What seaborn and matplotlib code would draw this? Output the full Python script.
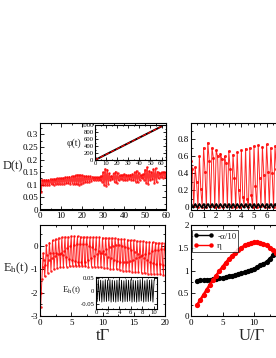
import numpy as np
import pandas as pd
import matplotlib
matplotlib.use("Agg")
import matplotlib.pyplot as plt
from matplotlib.ticker import MultipleLocator, FuncFormatter
import seaborn as sns

# ---------------- data ----------------
# top-left: D(t) band (upper samples at integer t, lower samples at half-integer t)
D_hi = [0.10, 0.12, 0.12, 0.12, 0.12, 0.123, 0.122, 0.124, 0.125, 0.125,
        0.127, 0.128, 0.13, 0.13, 0.132, 0.133, 0.135, 0.138, 0.14, 0.14,
        0.138, 0.135, 0.135, 0.133, 0.133, 0.132, 0.13, 0.13, 0.13, 0.135,
        0.15, 0.163, 0.16, 0.145, 0.135, 0.145, 0.152, 0.145, 0.138, 0.14,
        0.142, 0.14, 0.138, 0.14, 0.142, 0.15, 0.155, 0.148, 0.14, 0.142,
        0.16, 0.17, 0.155, 0.15, 0.162, 0.165, 0.152, 0.148, 0.15, 0.152, 0.15]
D_lo = [0.07, 0.10, 0.10, 0.10, 0.10, 0.102, 0.10, 0.103, 0.103, 0.104,
        0.105, 0.105, 0.106, 0.106, 0.105, 0.105, 0.103, 0.102, 0.10, 0.102,
        0.107, 0.11, 0.112, 0.113, 0.115, 0.117, 0.12, 0.12, 0.118, 0.112,
        0.10, 0.097, 0.105, 0.118, 0.122, 0.11, 0.108, 0.117, 0.122, 0.12,
        0.118, 0.12, 0.122, 0.12, 0.118, 0.112, 0.11, 0.118, 0.125, 0.12,
        0.108, 0.105, 0.118, 0.122, 0.108, 0.11, 0.125, 0.13, 0.128, 0.13, 0.13]
D_black = [0.0, 0.0, 0.0, 0.0, 0.0, 0.0, 0.0, 0.0, 0.0, 0.0, 0.0, 0.0, 0.0]
D_black_t = [0, 5, 10, 15, 20, 25, 30, 35, 40, 45, 50, 55, 60]

# inset phi(t)
phi_t = [0, 10, 20, 30, 40, 50, 60]
phi = [0, 160, 320, 480, 640, 800, 960]

# top-right: oscillation per period (peak, mid, low)
P_peak = [0.55, 0.47, 0.60, 0.70, 0.76, 0.70, 0.67, 0.63, 0.60, 0.66, 0.62,
          0.65, 0.67, 0.69, 0.70, 0.72, 0.73, 0.71, 0.74, 0.70, 0.72, 0.71, 0.73]
P_mid = [0.45, 0.30, 0.22, 0.42, 0.55, 0.58, 0.60, 0.57, 0.52, 0.45, 0.35,
         0.20, 0.12, 0.10, 0.15, 0.25, 0.35, 0.38, 0.42, 0.40, 0.45, 0.42, 0.44]
P_low = [0.02, 0.0, 0.01, 0.0, 0.02, 0.0, 0.01, 0.0, 0.02, 0.0, 0.01,
         0.0, 0.02, 0.0, 0.01, 0.0, 0.02, 0.0, 0.01, 0.0, 0.02, 0.0, 0.01]
B_osc = [0.04, 0.0, 0.04, 0.0, 0.04, 0.0, 0.04, 0.0, 0.04, 0.0, 0.04, 0.0,
         0.04, 0.0, 0.04, 0.0, 0.04, 0.0, 0.04, 0.0, 0.04, 0.0, 0.04, 0.0,
         0.04, 0.0, 0.04, 0.0, 0.04, 0.0, 0.04, 0.0, 0.04, 0.0, 0.04, 0.0,
         0.04, 0.0, 0.04, 0.0, 0.04, 0.0, 0.04, 0.0, 0.04, 0.0]

# bottom-left: E_h(t)
E_trans = [-3.0, -2.6, -2.0, -1.4, -0.9]
E_top = [-0.3, 0.05, 0.15, 0.25, 0.3, 0.35, 0.38, 0.4, 0.4, 0.42,
         0.42, 0.42, 0.4, 0.4, 0.4, 0.38, 0.38, 0.38, 0.38, 0.36,
         0.36, 0.35, 0.35, 0.33, 0.32, 0.3, 0.28, 0.27, 0.25, 0.25,
         0.22, 0.2, 0.2, 0.18, 0.17, 0.16, 0.15, 0.14, 0.13, 0.12]
E_bot = [-1.3, -1.15, -1.05, -1.0, -0.95, -0.92, -0.9, -0.88, -0.87, -0.86,
         -0.86, -0.86, -0.86, -0.87, -0.88, -0.88, -0.9, -0.9, -0.92, -0.93,
         -0.95, -0.97, -0.98, -1.0, -1.02, -1.05, -1.07, -1.08, -1.1, -1.12,
         -1.13, -1.15, -1.17, -1.18, -1.2, -1.2, -1.22, -1.22, -1.23, -1.23]
E_midA = [-0.6, -0.4, -0.3, -0.28, -0.3, -0.33, -0.4, -0.48, -0.56, -0.62,
          -0.66, -0.69, -0.7, -0.67, -0.6, -0.52, -0.44, -0.36, -0.28, -0.2,
          -0.12, -0.05, 0.0, 0.03, 0.04, 0.02, -0.03, -0.1, -0.18, -0.27,
          -0.36, -0.44, -0.52, -0.6, -0.67, -0.72, -0.76, -0.78, -0.8, -0.8]
E_midB = [-0.8, -0.6, -0.5, -0.42, -0.35, -0.28, -0.2, -0.1, -0.02, 0.05,
          0.08, 0.1, 0.1, 0.07, 0.02, -0.05, -0.12, -0.2, -0.28, -0.36,
          -0.45, -0.53, -0.6, -0.65, -0.68, -0.7, -0.68, -0.64, -0.58, -0.52,
          -0.46, -0.4, -0.34, -0.28, -0.22, -0.18, -0.15, -0.13, -0.12, -0.12]

# bottom-left inset: E_h(t) small oscillation
Ein = [0.04, -0.04, 0.042, -0.038, 0.04, -0.042, 0.038, -0.04, 0.042, -0.04,
       0.04, -0.038, 0.042, -0.042, 0.04, -0.04, 0.038, -0.042, 0.04, -0.04,
       0.042, -0.038, 0.04, -0.042, 0.038, -0.04, 0.042, -0.04, 0.04, -0.038,
       0.042, -0.042, 0.04, -0.04, 0.038, -0.042, 0.04, -0.04, 0.042, -0.038,
       0.04, -0.042, 0.038, -0.04, 0.042, -0.04, 0.04, -0.038, 0.042, -0.042, 0.04]

# bottom-right
U = [1.0, 1.5, 2.0, 2.5, 3.0, 3.5, 4.0, 4.5, 5.0, 5.5, 6.0, 6.5, 7.0, 7.5,
     8.0, 8.5, 9.0, 9.5, 10.0, 10.5, 11.0, 11.5, 12.0, 12.5, 13.0, 13.5, 14.0]
alpha10 = [0.78, 0.785, 0.79, 0.795, 0.80, 0.81, 0.82, 0.83, 0.84, 0.855,
           0.87, 0.885, 0.90, 0.92, 0.94, 0.96, 0.99, 1.01, 1.04, 1.07,
           1.11, 1.15, 1.19, 1.26, 1.33, 1.40, 1.47]
eta = [0.25, 0.36, 0.47, 0.58, 0.69, 0.79, 0.89, 0.99, 1.08, 1.17, 1.25,
       1.32, 1.39, 1.45, 1.50, 1.55, 1.58, 1.61, 1.62, 1.62, 1.60, 1.58,
       1.55, 1.50, 1.45, 1.38, 1.30]

# ---------------- style ----------------
sns.set_theme(style="ticks")
plt.rcParams["font.family"] = ["Liberation Serif", "DejaVu Serif"]
plt.rcParams["mathtext.fontset"] = "stix"
plt.rcParams["axes.unicode_minus"] = False
plt.rcParams["xtick.direction"] = "in"
plt.rcParams["ytick.direction"] = "in"

W, H = 276, 358
fig = plt.figure(figsize=(W / 100, H / 100), dpi=100)


def pos(x0, y0, x1, y1):
    return [x0 / W, 1 - y1 / H, (x1 - x0) / W, (y1 - y0) / H]


def make_fmt(xmax=None):
    def f(v, p):
        if xmax is not None and v > xmax:
            return ""
        return "%g" % round(v, 6)
    return FuncFormatter(f)


def style(ax, fs=6.5, xmax=None):
    for s in ax.spines.values():
        s.set_linewidth(0.8)
        s.set_color("black")
    ax.tick_params(which="both", top=True, right=True, labelsize=fs,
                   colors="black", width=0.6, pad=1.5)
    ax.tick_params(which="major", length=3)
    ax.tick_params(which="minor", length=1.5)
    ax.xaxis.set_major_formatter(make_fmt(xmax))
    ax.yaxis.set_major_formatter(make_fmt())
    ax.set_xlabel("")
    ax.set_ylabel("")
    leg = ax.get_legend()
    if leg is not None:
        leg.remove()


def lp(ax, x, y, color, ms=2.0, lw=0.6, alpha=1.0, ls="-"):
    sns.lineplot(x=list(x), y=list(y), ax=ax, color=color, marker="o",
                 markersize=ms, markeredgewidth=0, linewidth=lw, alpha=alpha,
                 linestyle=ls, estimator=None, sort=False)


# ---------- top-left ----------
ax1 = fig.add_axes(pos(40, 123, 166, 210))
tD = []
vD = []
for i in range(len(D_hi)):
    tD += [i, i + 0.5]
    vD += [D_hi[i], D_lo[i]]
lp(ax1, tD, vD, "#ff0000", ms=1.8, lw=1.0, alpha=0.8)
sns.lineplot(x=D_black_t, y=D_black, ax=ax1, color="black", linewidth=2.2)
ax1.set_xlim(0, 60)
ax1.set_ylim(0, 0.345)
ax1.xaxis.set_major_locator(MultipleLocator(10))
ax1.xaxis.set_minor_locator(MultipleLocator(5))
ax1.yaxis.set_major_locator(MultipleLocator(0.05))
ax1.yaxis.set_minor_locator(MultipleLocator(0.025))
style(ax1)

ax1i = fig.add_axes(pos(95, 125, 166, 160))
sns.lineplot(x=phi_t, y=phi, ax=ax1i, color="black", linewidth=1.4)
sns.lineplot(x=phi_t, y=phi, ax=ax1i, color="#ff0000", linewidth=0.8,
             linestyle="--")
ax1i.set_xlim(0, 64)
ax1i.set_ylim(0, 1000)
ax1i.xaxis.set_major_locator(MultipleLocator(10))
ax1i.xaxis.set_minor_locator(MultipleLocator(5))
ax1i.yaxis.set_major_locator(MultipleLocator(200))
ax1i.yaxis.set_minor_locator(MultipleLocator(100))
style(ax1i, fs=4.8)
ax1i.tick_params(which="major", length=2, pad=1)
ax1i.tick_params(which="minor", length=1)
fig.text(74 / W, 1 - 143 / H, "φ(t)", fontsize=7, ha="center", va="center")

# ---------- top-right ----------
ax2 = fig.add_axes(pos(191, 123, 317, 210))
tP = []
vP = []
for k in range(len(P_peak)):
    tP += [k / 3.0, k / 3.0 + 0.11, k / 3.0 + 0.22]
    vP += [P_peak[k], P_mid[k], P_low[k]]
lp(ax2, tP, vP, "#ff0000", ms=2.2, lw=0.7, alpha=0.85)
tB = [k / 6.0 for k in range(len(B_osc))]
lp(ax2, tB, B_osc, "black", ms=1.5, lw=1.2)
ax2.set_xlim(0, 10)
ax2.set_ylim(-0.03, 0.99)
ax2.xaxis.set_major_locator(MultipleLocator(1))
ax2.xaxis.set_minor_locator(MultipleLocator(0.5))
ax2.yaxis.set_major_locator(MultipleLocator(0.2))
ax2.yaxis.set_minor_locator(MultipleLocator(0.1))
style(ax2, xmax=6.5)

# ---------- bottom-left ----------
ax3 = fig.add_axes(pos(40, 225, 165, 316))
tE = [0.0, 0.1, 0.2, 0.3, 0.4]
vE = list(E_trans)
for k in range(len(E_top)):
    t0 = 0.5 * (k + 1)
    tE += [t0, t0 + 0.125, t0 + 0.25, t0 + 0.375]
    vE += [E_top[k], E_midA[k], E_bot[k], E_midB[k]]
lp(ax3, tE, vE, "#ff0000", ms=1.8, lw=0.7, alpha=0.85)
ax3.set_xlim(0, 20)
ax3.set_ylim(-3, 0.9)
ax3.xaxis.set_major_locator(MultipleLocator(5))
ax3.xaxis.set_minor_locator(MultipleLocator(2.5))
ax3.yaxis.set_major_locator(MultipleLocator(1))
ax3.yaxis.set_minor_locator(MultipleLocator(0.5))
style(ax3)
ax3.tick_params(axis="x", pad=2.5)

ax3i = fig.add_axes(pos(96, 277, 157, 309))
tI = [0.2 * k for k in range(len(Ein))]
sns.lineplot(x=tI, y=Ein, ax=ax3i, color="black", linewidth=0.6,
             estimator=None, sort=False)
ax3i.set_xlim(0, 10.5)
ax3i.set_ylim(-0.068, 0.052)
ax3i.xaxis.set_major_locator(MultipleLocator(2))
ax3i.xaxis.set_minor_locator(MultipleLocator(1))
ax3i.yaxis.set_major_locator(MultipleLocator(0.05))
ax3i.yaxis.set_minor_locator(MultipleLocator(0.025))
style(ax3i, fs=4.8)
ax3i.tick_params(which="major", length=2, pad=1)
ax3i.tick_params(which="minor", length=1)
fig.text(72 / W, 1 - 290 / H, r"E$_{\rm h}$(t)", fontsize=6.5,
         ha="center", va="center")

# ---------- bottom-right ----------
ax4 = fig.add_axes(pos(191, 225, 317, 316))
sns.lineplot(x=U, y=alpha10, ax=ax4, color="black", marker="o",
             markersize=3.8, markeredgewidth=0, linewidth=1.8,
             label="-α/10")
sns.lineplot(x=U, y=eta, ax=ax4, color="#ff0000", marker="o",
             markersize=3.8, markeredgewidth=0, linewidth=1.8, label="η")
ax4.set_xlim(0, 20)
ax4.set_ylim(0, 2)
ax4.xaxis.set_major_locator(MultipleLocator(5))
ax4.xaxis.set_minor_locator(MultipleLocator(2.5))
ax4.yaxis.set_major_locator(MultipleLocator(0.5))
ax4.yaxis.set_minor_locator(MultipleLocator(0.25))
h, l = ax4.get_legend_handles_labels()
style(ax4, xmax=12)
ax4.tick_params(axis="x", pad=2.5)
leg = ax4.legend(h, l, loc="upper left", fontsize=6.5, frameon=True,
                 fancybox=False, borderpad=0.2, labelspacing=0.1,
                 handlelength=2.2, handletextpad=0.4, numpoints=2,
                 bbox_to_anchor=(0.0, 0.95), borderaxespad=0.1)
leg.get_frame().set_edgecolor("black")
leg.get_frame().set_linewidth(0.6)
for ln in leg.get_lines():
    ln.set_linewidth(1.0)
    ln.set_markersize(3.2)

# ---------- axis labels ----------
fig.text(13 / W, 1 - 166 / H, "D(t)", fontsize=9, ha="center", va="center")
fig.text(16 / W, 1 - 268 / H, r"E$_{\rm h}$(t)", fontsize=9,
         ha="center", va="center")
fig.text(103 / W, 1 - 336 / H, "tΓ", fontsize=12, ha="center", va="center")
fig.text(252 / W, 1 - 336 / H, "U/Γ", fontsize=12, ha="center", va="center")

fig.savefig("out.png", dpi=100)
